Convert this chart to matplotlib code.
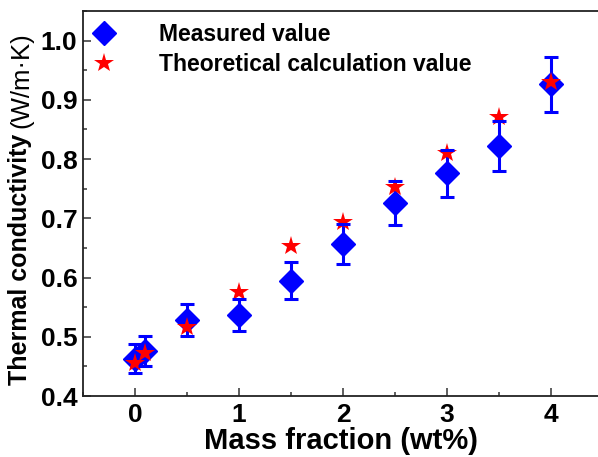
import numpy as np
import matplotlib
matplotlib.use("Agg")
import matplotlib.pyplot as plt
from matplotlib.ticker import MultipleLocator
from matplotlib.lines import Line2D

plt.rcParams['font.family'] = ['Liberation Sans', 'DejaVu Sans']

# mass fraction (wt%) and thermal conductivity (W/m·K)
mass_fraction = [0, 0.1, 0.5, 1, 1.5, 2, 2.5, 3, 3.5, 4]
measured = [0.463, 0.476, 0.528, 0.536, 0.595, 0.657, 0.726, 0.776, 0.822, 0.926]
measured_err = [0.024, 0.025, 0.027, 0.027, 0.031, 0.034, 0.037, 0.040, 0.042, 0.046]
theoretical = [0.456, 0.472, 0.516, 0.576, 0.654, 0.694, 0.753, 0.810, 0.871, 0.930]

x_ticks = [0, 1, 2, 3, 4]
y_ticks = [0.4, 0.5, 0.6, 0.7, 0.8, 0.9, 1.0]

W, H = 598, 457
fig = plt.figure(figsize=(W / 100, H / 100), dpi=100)
ax = fig.add_axes([83 / W, 61 / H, 1 - 83 / W, 385 / H])

eb = ax.errorbar(mass_fraction, measured, yerr=measured_err, fmt='D', color='#0000ff',
                 markersize=12, elinewidth=2.2, capsize=5, capthick=2.2, zorder=2)
for cap in eb[1]:
    cap.set_zorder(4)
ax.plot(mass_fraction, theoretical, '*', color='#ff0000', markersize=15,
        markeredgewidth=0, zorder=3)

ax.set_xlim(-0.5, 4.45)
ax.set_ylim(0.4, 1.05)
ax.set_xticks(x_ticks)
ax.set_xticklabels([str(t) for t in x_ticks])
ax.set_yticks(y_ticks)
ax.set_yticklabels([f'{t:.1f}' for t in y_ticks])
ax.xaxis.set_minor_locator(MultipleLocator(0.5))
ax.yaxis.set_minor_locator(MultipleLocator(0.05))
ax.tick_params(which='both', direction='in', top=False, right=False,
               width=1.1, color='#333333')
ax.tick_params(which='major', length=6, labelsize=19)
ax.tick_params(axis='x', which='major', pad=5)
ax.tick_params(axis='y', which='major', pad=4)
ax.tick_params(which='minor', length=3)
for lab in ax.get_xticklabels() + ax.get_yticklabels():
    lab.set_fontweight('bold')

for side in ['left', 'bottom', 'top']:
    ax.spines[side].set_linewidth(1.3)
    ax.spines[side].set_color('#222222')
ax.spines['right'].set_visible(False)

ax.set_xlabel('Mass fraction (wt%)', fontsize=21, fontweight='bold', labelpad=0)

# y label: bold quantity name followed by regular-weight unit
ylab = fig.text(20 / W, (H - 385) / H, 'Thermal conductivity', rotation=90,
                ha='center', va='bottom', fontsize=18, fontweight='bold')
fig.canvas.draw()
bb = ylab.get_window_extent()
fig.text(21 / W, (bb.y1 + 6) / H, '(W/m·K)', rotation=90,
         ha='center', va='bottom', fontsize=18.5)

handles = [
    Line2D([], [], ls='none', marker='D', color='#0000ff', markersize=12),
    Line2D([], [], ls='none', marker='*', color='#ff0000', markersize=15,
           markeredgewidth=0),
]
labels = ['Measured value', 'Theoretical calculation value']
ax.legend(handles, labels, loc='upper left', frameon=False,
          prop={'weight': 'bold', 'size': 16.5}, handlelength=1.4,
          handletextpad=1.7, borderaxespad=0, borderpad=0, labelspacing=0.3,
          bbox_to_anchor=(5 / 515, 1 - 12 / 385))

fig.savefig('out.png', dpi=100)
